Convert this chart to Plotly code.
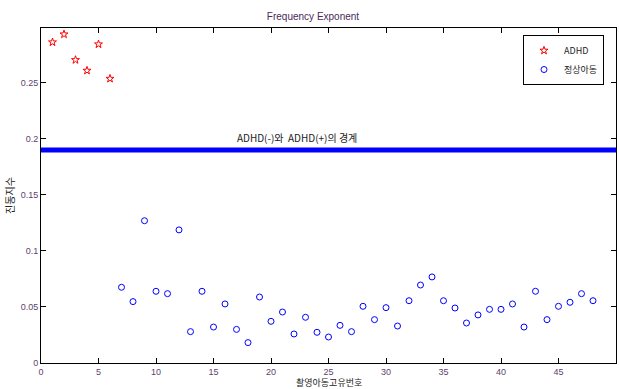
import plotly.graph_objects as go

adhd_x = [1, 2, 3, 4, 5, 6]
adhd_y = [0.2863, 0.2934, 0.2705, 0.2610, 0.2845, 0.2538]

normal_x = list(range(7, 49))
normal_y = [0.0676, 0.0548, 0.1270, 0.0640, 0.0619, 0.1188, 0.0280, 0.0640, 0.0321,
            0.0527, 0.0300, 0.0182, 0.0589, 0.0372, 0.0455, 0.0259, 0.0408, 0.0274,
            0.0232, 0.0336, 0.0280, 0.0506, 0.0387, 0.0494, 0.0330, 0.0556, 0.0696,
            0.0768, 0.0556, 0.0491, 0.0357, 0.0429, 0.0479, 0.0479, 0.0527, 0.0321,
            0.0640, 0.0387, 0.0506, 0.0542, 0.0619, 0.0556]

boundary_x = [0, 50]
boundary_y = [0.19, 0.19]

x_ticks = [0, 5, 10, 15, 20, 25, 30, 35, 40, 45, 50]
y_ticks = [0, 0.05, 0.1, 0.15, 0.2, 0.25]
y_tick_labels = ["0", "0.05", "0.1", "0.15", "0.2", "0.25"]

FONT = "Liberation Sans, Arial, sans-serif"
KFONT = "Noto Sans CJK KR, sans-serif"
TICKCOL = "#5e3f6e"

fig = go.Figure()
fig.add_trace(go.Scatter(x=boundary_x, y=boundary_y, mode="lines",
                         line=dict(color="#0000ff", width=5), showlegend=False,
                         hoverinfo="skip"))
fig.add_trace(go.Scatter(x=adhd_x, y=adhd_y, mode="markers", name="ADHD",
                         marker=dict(symbol="star-open", size=6, color="#ff0000",
                                     line=dict(width=1, color="#ff0000"))))
fig.add_trace(go.Scatter(x=normal_x, y=normal_y, mode="markers", name="정상아동",
                         marker=dict(symbol="circle-open", size=6, color="#0000ff",
                                     line=dict(width=1, color="#0000ff"))))

fig.add_annotation(x=22.3, y=0.19, xref="x", yref="y", text="ADHD(-)와  ADHD(+)의 경계",
                   showarrow=False, yanchor="bottom", yshift=3,
                   font=dict(family=KFONT, size=10, color="#222222"))

# x-axis title placed as annotation below tick labels
fig.add_annotation(x=0.5, y=-(382.5 - 363) / 335, xref="paper", yref="paper",
                   text="촬영아동고유번호", showarrow=False, yanchor="middle",
                   borderpad=0,
                   font=dict(family=KFONT, size=9, color="#222222"))

fig.update_layout(
    width=619, height=389,
    margin=dict(l=41, r=3, t=28, b=26),
    paper_bgcolor="white", plot_bgcolor="white",
    title=dict(text="Frequency Exponent", x=(313) / 619, xanchor="center",
               y=1 - 16 / 389, yanchor="middle",
               font=dict(family=FONT, size=10, color="#4a2a5a")),
    legend=dict(x=(604 - 41) / 575, y=(363 - 35) / 335, xanchor="right", yanchor="top",
                bgcolor="white", bordercolor="#000000", borderwidth=1,
                font=dict(family=KFONT, size=9, color="#222222"),
                itemwidth=30, tracegroupgap=0),
    showlegend=True,
)
fig.update_xaxes(range=[0, 50], tickvals=x_ticks, ticks="inside", ticklen=5,
                 tickcolor="#000", showline=True, linecolor="#000", linewidth=1,
                 mirror="ticks", showgrid=False, zeroline=False,
                 tickfont=dict(family=FONT, size=9, color=TICKCOL))
fig.update_yaxes(range=[0, 0.299], tickvals=y_ticks, ticktext=y_tick_labels,
                 ticks="inside", ticklen=5, tickcolor="#000", showline=True,
                 linecolor="#000", linewidth=1, mirror="ticks", showgrid=False,
                 zeroline=False,
                 tickfont=dict(family=FONT, size=9, color=TICKCOL),
                 title=dict(text="진동지수", standoff=4,
                            font=dict(family=KFONT, size=10, color="#222222")))

fig.write_html("out.html")
